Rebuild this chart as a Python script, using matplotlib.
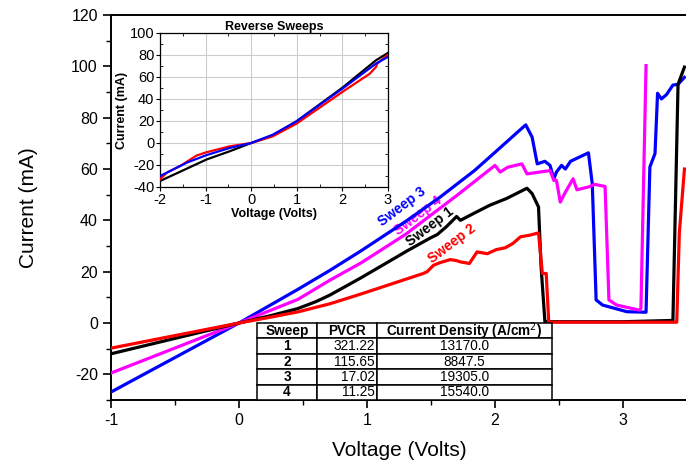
import matplotlib
matplotlib.use("Agg")
import matplotlib.pyplot as plt
from matplotlib.ticker import MultipleLocator

plt.rcParams['font.family'] = ['Liberation Sans', 'DejaVu Sans']
plt.rcParams['axes.unicode_minus'] = False

# ---- main plot data ----
s3_x = [-1, 0, 0.46, 0.71, 0.953, 1.3, 1.57, 1.84, 2.0, 2.24, 2.29, 2.33, 2.39, 2.43, 2.46, 2.48,
        2.52, 2.55, 2.59, 2.73, 2.76, 2.79, 2.84, 3.03, 3.18, 3.21, 3.25, 3.27, 3.30, 3.34, 3.39, 3.43, 3.48]
s3_y = [-26.9, 0, 13.1, 20.5, 28.1, 39.5, 49, 59.4, 66.5, 77.2, 72.4, 62, 63, 61.4, 56.2, 58.8,
        61.4, 60, 63, 66.3, 54.2, 9, 7, 4.4, 4.2, 60.8, 66, 89.5, 87.3, 89, 92.7, 93, 95.7]

s4_x = [-1, 0, 0.46, 0.711, 0.953, 1.3, 1.71, 2.0, 2.04, 2.10, 2.21, 2.25, 2.43, 2.46, 2.48, 2.51,
        2.55, 2.61, 2.64, 2.73, 2.78, 2.86, 2.89, 2.95, 3.13, 3.14, 3.18]
s4_y = [-19.5, 0, 9.2, 16.7, 23.4, 34.5, 50, 61.4, 58.8, 60.7, 62, 58.1, 59.4, 55.5, 55.6, 47.1,
        51, 56.2, 51.9, 53, 54, 53.2, 9, 7, 5, 5.7, 100.3]

s1_x = [-1, 0, 0.25, 0.458, 0.6, 0.711, 0.953, 1.31, 1.49, 1.55, 1.62, 1.70, 1.73, 1.83, 1.96, 2.09, 2.25,
        2.29, 2.34, 2.36, 2.39, 3.0, 3.39, 3.43, 3.48]
s1_y = [-12, 0, 2.9, 5.6, 8.3, 10.9, 17.6, 28, 33, 34.5, 37.5, 41.5, 40, 42.6, 45.9, 48.5, 52.5,
        50.4, 45.2, 21.9, 0.5, 0.5, 1, 93, 99.7]

s2_x = [-1, 0, 0.25, 0.458, 0.711, 0.953, 1.44, 1.47, 1.52, 1.57, 1.65, 1.70, 1.73, 1.80, 1.86, 1.94,
        2.01, 2.08, 2.14, 2.20, 2.27, 2.34, 2.37, 2.40, 2.42, 3.0, 3.42, 3.44, 3.48]
s2_y = [-9.8, 0, 2.3, 4.3, 7.5, 11.3, 19.3, 20, 22.5, 23.5, 24.7, 24.3, 23.8, 23.2, 27.7, 27,
        28.6, 29.3, 31, 33.6, 34.2, 35.1, 19.3, 19.3, 0.3, 0.3, 0.3, 35, 60]

# ---- inset (reverse sweeps) data ----
r1_x = [-2, -0.98, -0.47, 0, 0.47, 0.99, 2.01, 2.74, 3.0]
r1_y = [-34.6, -15, -7.5, 0, 6.8, 19.6, 50.6, 75.3, 81.9]
r2_x = [-2, -1.85, -1.56, -1.2, -0.98, -0.47, 0, 0.47, 0.99, 2.01, 2.6, 2.74, 2.76, 3.0]
r2_y = [-33, -27, -21, -11.4, -8.4, -3, 0, 6, 17.5, 46.7, 63, 69.3, 72, 80.4]
r3_x = [-2, -1.42, -0.98, -0.47, 0, 0.47, 0.99, 2.01, 2.74, 3.0]
r3_y = [-30, -18, -11, -4.5, 0, 7.5, 19.6, 49.7, 72.3, 78.3]

# ---- table ----
col_labels = ["Sweep", "PVCR", "Current Density (A/cm$^2$)"]
sweep_ids = ["1", "2", "3", "4"]
pvcr = ["321.22", "115.65", "17.02", "11.25"]
density = ["13170.0", "8847.5", "19305.0", "15540.0"]

BLUE, MAG, RED, BLK = "#0000ff", "#ff00ff", "#ff0000", "#000000"

W, H = 686, 465
fig = plt.figure(figsize=(W / 100, H / 100), dpi=100)

ax = fig.add_axes([111 / W, (H - 400) / H, 576 / W, 385 / H])
lw = 2.3
ax.plot(s3_x, s3_y, color=BLUE, lw=lw, zorder=3)
ax.plot(s4_x, s4_y, color=MAG, lw=lw, zorder=3)
ax.plot(s1_x, s1_y, color=BLK, lw=lw, zorder=3)
ax.plot(s2_x, s2_y, color=RED, lw=lw, zorder=3)

ax.set_xlim(-1, 3.5)
ax.set_ylim(-30, 120)
ax.xaxis.set_major_locator(MultipleLocator(1))
ax.xaxis.set_minor_locator(MultipleLocator(0.5))
ax.yaxis.set_major_locator(MultipleLocator(20))
ax.yaxis.set_minor_locator(MultipleLocator(10))
ax.tick_params(which='major', direction='out', length=6, width=1.2, labelsize=11.5)
ax.tick_params(which='minor', direction='out', length=3.5, width=1.0)
for sp in ax.spines.values():
    sp.set_linewidth(1.4)
ax.set_xlabel("Voltage (Volts)", fontsize=15, labelpad=9)
ax.set_ylabel("Current (mA)", fontsize=15, labelpad=24)

# sweep labels
ax.text(1.27, 45.4, "Sweep 3", color=BLUE, rotation=37, fontsize=10, fontweight='bold',
        ha='center', va='center', zorder=4)
ax.text(1.40, 42.0, "Sweep 4", color=MAG, rotation=37, fontsize=10, fontweight='bold',
        ha='center', va='center', zorder=2)
ax.text(1.49, 37.4, "Sweep 1", color=BLK, rotation=37, fontsize=10, fontweight='bold',
        ha='center', va='center', zorder=4)
ax.text(1.66, 31.0, "Sweep 2", color=RED, rotation=37, fontsize=10, fontweight='bold',
        ha='center', va='center', zorder=4)

# table
cells = [[a, b, c] for a, b, c in zip(sweep_ids, pvcr, density)]
tbl = ax.table(cellText=cells, colLabels=col_labels,
               colWidths=[60, 60, 175],
               bbox=[(257 - 111) / 576, 0.0, 295 / 576, 77 / 385],
               zorder=5)
tbl.auto_set_font_size(False)
for (r, c), cell in tbl.get_celld().items():
    cell.set_linewidth(1.1)
    cell.set_facecolor('white')
    t = cell.get_text()
    t.set_fontsize(9.8)
    if r == 0 or c == 0:
        t.set_fontweight('bold')
    if c == 1 and r > 0:
        cell._loc = 'right'
        cell.PAD = 0.04
        t.set_ha('right')
    else:
        cell._loc = 'center'
        t.set_ha('center')

# inset
ins = fig.add_axes([160 / W, (H - 187) / H, 228 / W, 154 / H])
ins.plot(r1_x, r1_y, color=BLK, lw=1.6, zorder=3)
ins.plot(r2_x, r2_y, color=RED, lw=1.6, zorder=3)
ins.plot(r3_x, r3_y, color=BLUE, lw=1.6, zorder=3)
ins.set_xlim(-2, 3)
ins.set_ylim(-40, 100)
ins.xaxis.set_major_locator(MultipleLocator(1))
ins.xaxis.set_minor_locator(MultipleLocator(0.5))
ins.yaxis.set_major_locator(MultipleLocator(20))
ins.yaxis.set_minor_locator(MultipleLocator(10))
ins.grid(True, which='major', color='#cccccc', lw=0.8, zorder=0)
ins.tick_params(which='major', direction='out', length=3, width=0.8, labelsize=10.5, pad=1)
ins.tick_params(which='minor', direction='in', length=2, width=0.6, right=True, top=True)
for sp in ins.spines.values():
    sp.set_linewidth(0.9)
ins.set_title("Reverse Sweeps", fontsize=9, fontweight='bold', pad=2)
ins.set_xlabel("Voltage (Volts)", fontsize=9, fontweight='bold', labelpad=1)
ins.set_ylabel("Current (mA)", fontsize=9, fontweight='bold', labelpad=1)

fig.savefig("out.png", dpi=100)
